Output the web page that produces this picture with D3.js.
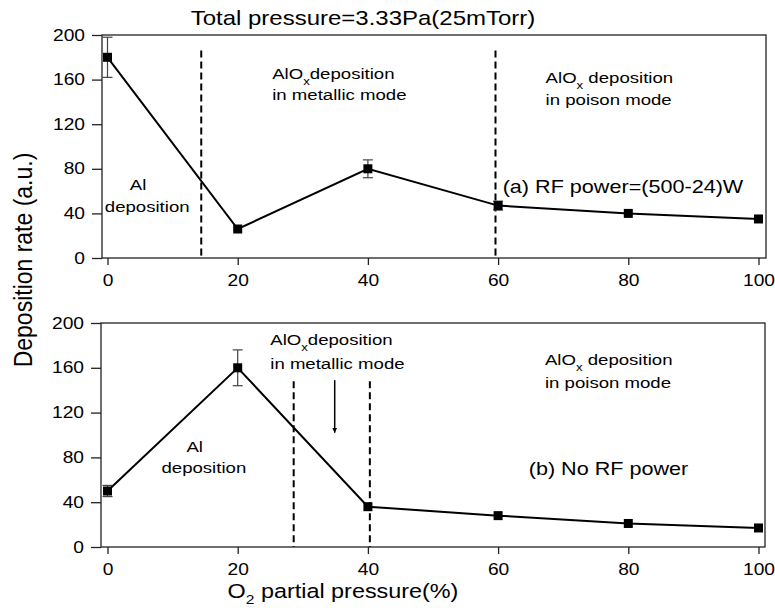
<!DOCTYPE html>
<html lang="en">
<head>
<meta charset="UTF-8">
<title>Deposition rate vs O2 partial pressure</title>
<script src="https://cdn.jsdelivr.net/npm/d3@7"></script>
<style>
  body { margin: 0; background: #fff; }
  text { font-family: Arial, "Liberation Sans", sans-serif; fill: #000; }
</style>
</head>
<body>
<script>
// data
const xVals  = [0, 20, 40, 60, 80, 100];
const rateA  = [180, 26, 80, 47, 40, 35];   // (a) RF power on
const errA   = [18, 0, 8, 4, 0, 0];
const rateB  = [50, 160, 36, 28, 21, 17];   // (b) no RF power
const errB   = [5, 16, 0, 0, 0, 0];
const xTicks = [0, 20, 40, 60, 80, 100];
const yTicks = [0, 40, 80, 120, 160, 200];
const dashA  = [14.4, 59.6];  // mode boundaries, panel a
const dashB  = [28.6, 40.3];  // mode boundaries, panel b

const W = 775, H = 616;
const sx = 1.2; // text in the scan is stretched sideways

const svg = d3.select("body").append("svg")
    .attr("width", W).attr("height", H);

const x = d3.scaleLinear().domain([0, 100]).range([107.5, 758.5]);

// text helper: place at (px,py), stretched horizontally
function txt(g, px, py, size, anchor) {
  return g.append("text")
    .attr("transform", "translate(" + px + "," + py + ") scale(" + sx + ",1)")
    .attr("font-size", size)
    .attr("text-anchor", anchor || "start");
}

// "AlOx" + rest, with subscript x
function alox(g, px, py, rest) {
  const t = txt(g, px, py, 15.5);
  t.append("tspan").text("AlO");
  t.append("tspan").attr("font-size", 11).attr("dy", 6).text("x");
  t.append("tspan").attr("dy", -6).text(rest);
}

function panel(o) {
  const y = d3.scaleLinear().domain([0, 200]).range([o.yBottom, o.yTop]);
  const g = svg.append("g");

  // frame
  g.append("rect")
    .attr("x", o.left).attr("y", y(200))
    .attr("width", o.right - o.left).attr("height", y(0) - y(200))
    .attr("fill", "none").attr("stroke", "#222").attr("stroke-width", 1.3);

  // y axis
  const ya = g.append("g").attr("transform", "translate(" + o.left + ",0)")
    .call(d3.axisLeft(y).tickValues(yTicks).tickSize(10).tickSizeOuter(0).tickPadding(7));
  ya.select(".domain").remove();
  ya.selectAll("line").attr("stroke", "#222").attr("stroke-width", 1.3);
  ya.selectAll("text")
    .attr("font-size", 16).attr("font-family", null)
    .attr("x", -17 / sx).attr("transform", "scale(" + sx + ",1)");

  // x axis
  const xa = g.append("g").attr("transform", "translate(0," + y(0) + ")")
    .call(d3.axisBottom(x).tickValues(xTicks).tickSize(7).tickSizeOuter(0).tickPadding(9.6));
  xa.select(".domain").remove();
  xa.selectAll("line").attr("stroke", "#222").attr("stroke-width", 1.3);
  xa.selectAll("text")
    .attr("font-size", 16).attr("font-family", null)
    .attr("transform", "scale(" + sx + ",1)");

  // dashed mode boundaries
  g.selectAll(".dash").data(o.dash).enter().append("line")
    .attr("x1", d => x(d)).attr("x2", d => x(d))
    .attr("y1", y(o.dashTop)).attr("y2", y(0))
    .attr("stroke", "#000").attr("stroke-width", 2)
    .attr("stroke-dasharray", "7,4");

  const pts = xVals.map((v, i) => ({ x: v, y: o.rate[i], e: o.err[i] }));

  // connecting line
  g.append("path").datum(pts)
    .attr("d", d3.line().x(d => x(d.x)).y(d => y(d.y)))
    .attr("fill", "none").attr("stroke", "#000").attr("stroke-width", 2);

  // error bars
  const eb = g.selectAll(".err").data(pts.filter(d => d.e > 0)).enter().append("g")
    .attr("stroke", "#444").attr("stroke-width", 1.2);
  eb.append("line")
    .attr("x1", d => x(d.x)).attr("x2", d => x(d.x))
    .attr("y1", d => y(d.y - d.e)).attr("y2", d => y(d.y + d.e));
  eb.append("line")
    .attr("x1", d => x(d.x) - 5).attr("x2", d => x(d.x) + 5)
    .attr("y1", d => y(d.y + d.e)).attr("y2", d => y(d.y + d.e));
  eb.append("line")
    .attr("x1", d => x(d.x) - 5).attr("x2", d => x(d.x) + 5)
    .attr("y1", d => y(d.y - d.e)).attr("y2", d => y(d.y - d.e));

  // square markers
  g.selectAll(".pt").data(pts).enter().append("rect")
    .attr("x", d => x(d.x) - 4.5).attr("y", d => y(d.y) - 4.5)
    .attr("width", 9).attr("height", 9).attr("fill", "#000");

  // annotations (data coordinates)
  txt(g, x(o.al[0]), y(o.al[1]), 15.5, "middle").text("Al");
  txt(g, x(o.dep[0]), y(o.dep[1]), 15.5, "middle").text("deposition");
  alox(g, x(o.met[0]), y(o.met[1]), "deposition");
  txt(g, x(o.met[0]), y(o.met[2]), 15.5).text("in metallic mode");
  alox(g, x(o.poi[0]), y(o.poi[1]), " deposition");
  txt(g, x(o.poi[0]), y(o.poi[2]), 15.5).text("in poison mode");
  txt(g, x(o.cap[0]), y(o.cap[1]), 18).text(o.caption);

  return { g: g, y: y };
}

panel({
  yTop: 35, yBottom: 258, left: 102, right: 766,
  rate: rateA, err: errA, dash: dashA, dashTop: 186,
  al: [4.7, 61], dep: [6.1, 41.3],
  met: [25.3, 160.5, 141.7], poi: [67.3, 157.2, 137.2],
  cap: [60.7, 58.3], caption: "(a) RF power=(500-24)W"
});

const pb = panel({
  yTop: 323, yBottom: 547, left: 101, right: 765,
  rate: rateB, err: errB, dash: dashB, dashTop: 148,
  al: [13.4, 85], dep: [14.8, 66],
  met: [25, 180.4, 159], poi: [67.2, 162.5, 142],
  cap: [64.7, 64.3], caption: "(b) No RF power"
});

// arrow into metallic-mode region (panel b)
svg.append("defs").append("marker")
  .attr("id", "ah").attr("viewBox", "0 0 10 10")
  .attr("refX", 10).attr("refY", 5)
  .attr("markerWidth", 5).attr("markerHeight", 8)
  .attr("markerUnits", "userSpaceOnUse")
  .attr("orient", "auto")
  .append("path").attr("d", "M0,0 L10,5 L0,10 Z").attr("fill", "#000");
pb.g.append("line")
  .attr("x1", x(34.9)).attr("x2", x(34.9))
  .attr("y1", pb.y(149)).attr("y2", pb.y(102))
  .attr("stroke", "#000").attr("stroke-width", 1.5)
  .attr("marker-end", "url(#ah)");

// title
txt(svg, 363, 25, 20, "middle").text("Total pressure=3.33Pa(25mTorr)");

// y label
svg.append("text")
  .attr("transform", "translate(31.5,260) scale(1.15,1) rotate(-90)")
  .attr("font-size", 23).attr("text-anchor", "middle")
  .text("Deposition rate (a.u.)");

// x label with subscript
const xl = txt(svg, 343, 598, 19.5, "middle");
xl.append("tspan").text("O");
xl.append("tspan").attr("font-size", 13).attr("dy", 6).text("2");
xl.append("tspan").attr("dy", -6).text(" partial pressure(%)");
</script>
</body>
</html>
